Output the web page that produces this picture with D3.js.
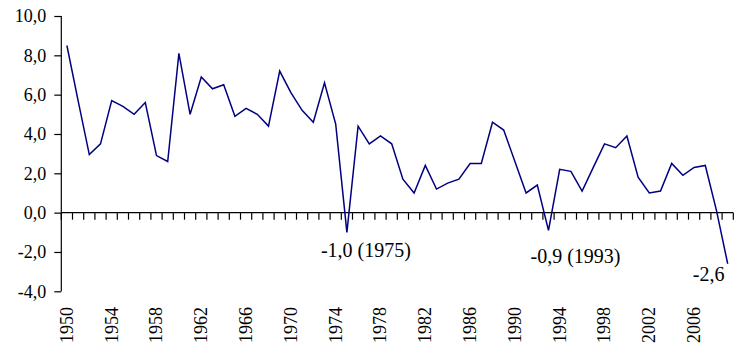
<!DOCTYPE html>
<html><head><meta charset="utf-8">
<script src="https://cdn.jsdelivr.net/npm/d3@7/dist/d3.min.js"></script>
<style>body{margin:0;background:#fff}svg{display:block}text{font-family:"Liberation Serif","Times New Roman",serif;fill:#000}</style>
</head><body><svg id="c" width="743" height="355"></svg>
<script>
const years = d3.range(1950, 2010);
const values = [8.5,5.7,2.95,3.5,5.7,5.4,5.0,5.6,2.9,2.6,
  8.1,5.0,6.9,6.3,6.5,4.9,5.3,5.0,4.4,7.2,
  6.1,5.2,4.6,6.6,4.5,-1.0,4.4,3.5,3.9,3.5,
  1.7,1.0,2.4,1.2,1.5,1.7,2.5,2.5,4.6,4.2,
  2.6,1.0,1.4,-0.9,2.2,2.1,1.1,2.3,3.5,3.3,
  3.9,1.8,1.0,1.1,2.5,1.9,2.3,2.4,0.1,-2.6];
const yTicks = [-4,-2,0,2,4,6,8,10];
const labelYears = d3.range(1950, 2007, 4);
const annotations = [
  {year:1975, value:-1.0, text:"-1,0 (1975)"},
  {year:1993, value:-0.9, text:"-0,9 (1993)"},
  {year:2009, value:-2.6, text:"-2,6"}
];

const svg = d3.select("#c");
const x = d3.scaleBand().domain(years).range([61.3, 733.3]);
const y = d3.scaleLinear().domain([-4, 10]).range([291.3, 16]);
const fmt = v => d3.format(".1f")(v).replace(".", ",").replace("−","-");

// y axis
const ya = svg.append("g").attr("transform","translate(61.3,0)")
  .call(d3.axisLeft(y).tickValues(yTicks).tickSize(7).tickPadding(8).tickFormat(fmt));
ya.selectAll("path,line").attr("stroke","#000").attr("stroke-width",1.2);
ya.select(".domain").attr("d", `M0,${y(-4)}H0V${y(10)}`);
ya.selectAll("text").style("font-size","18px").attr("fill","#000");

// x axis at zero
const boundaries = d3.range(0, years.length + 1).map(i => x.range()[0] + i * x.step());
const xg = svg.append("g");
xg.append("line").attr("x1", x.range()[0]).attr("x2", x.range()[1])
  .attr("y1", y(0)).attr("y2", y(0)).attr("stroke","#000").attr("stroke-width",1.2);
xg.selectAll("line.t").data(boundaries).join("line").attr("class","t")
  .attr("x1", d=>d).attr("x2", d=>d).attr("y1", y(0)).attr("y2", y(0)+7)
  .attr("stroke","#000").attr("stroke-width",1.2);

// year labels
svg.append("g").selectAll("text").data(labelYears).join("text")
  .attr("transform", d => `translate(${x(d)+x.bandwidth()/2},307) rotate(-90)`)
  .attr("text-anchor","end").attr("dy","0.33em")
  .style("font-size","18px").text(d => d);

// line
const line = d3.line().x((d,i)=>x(years[i])+x.bandwidth()/2).y(d=>y(d));
svg.append("path").datum(values).attr("d", line)
  .attr("fill","none").attr("stroke","#000080").attr("stroke-width",1.5).attr("stroke-linejoin","miter");

// annotations
const offs = {1975:[19,25], 1993:[27,33], 2009:[-19,17]};
svg.append("g").selectAll("text").data(annotations).join("text")
  .attr("x", d => x(d.year)+x.bandwidth()/2 + offs[d.year][0])
  .attr("y", d => y(d.value) + offs[d.year][1])
  .attr("text-anchor","middle").style("font-size","20px").text(d => d.text);
</script></body></html>
